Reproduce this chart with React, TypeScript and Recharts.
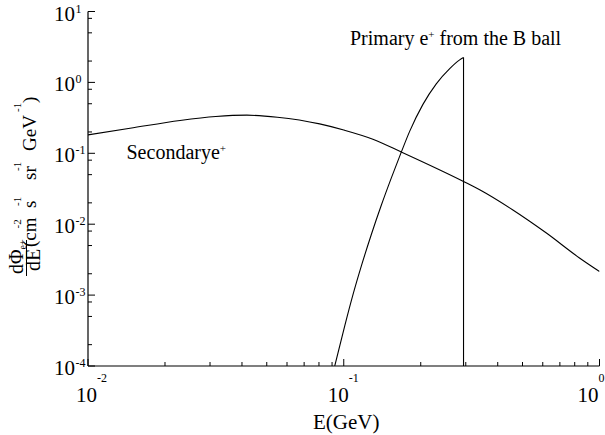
import React from 'react';
import { LineChart, Line, XAxis, YAxis, Customized } from 'recharts';

const FONT = '"Liberation Serif", "Times New Roman", Times, "DejaVu Serif", serif';
const fs = (size: number) => ({ fontFamily: FONT, fontSize: size });

// Secondary positron flux
const secondaryEnergy = [0.01, 0.0146, 0.0229, 0.0316, 0.0418, 0.055, 0.0805, 0.1, 0.13, 0.168, 0.294, 0.34, 0.457, 0.62, 0.835, 1.0];
const secondaryFlux = [0.182, 0.225, 0.29, 0.33, 0.345, 0.323, 0.26, 0.213, 0.158, 0.104, 0.04, 0.0306, 0.016, 0.0075, 0.00334, 0.00215];

// Primary positron flux from the B ball
const primaryEnergy = [0.0922, 0.1009, 0.1088, 0.1172, 0.128, 0.14, 0.1535, 0.168, 0.181, 0.204, 0.23, 0.2596, 0.284, 0.294];
const primaryFlux = [0.0001, 0.000368, 0.00103, 0.00258, 0.00705, 0.0182, 0.045, 0.1047, 0.204, 0.49, 0.955, 1.567, 2.08, 2.25];

// Sharp cutoff of the primary spectrum
const cutoffEnergy = [0.294, 0.294];
const cutoffFlux = [2.25, 0.0001];

// Axis ticks
const xTicks = [0.01, 0.02, 0.03, 0.04, 0.05, 0.06, 0.07, 0.08, 0.09, 0.1, 0.2, 0.3, 0.4, 0.5, 0.6, 0.7, 0.8, 0.9, 1];
const xMajorTicks = [0.01, 0.1, 1];
const xTickExponents = ['-2', '-1', '0'];
const yTicks = [0.0001, 0.0002, 0.0005, 0.0008, 0.001, 0.002, 0.005, 0.008, 0.01, 0.02, 0.05, 0.08, 0.1, 0.2, 0.5, 0.8, 1, 2, 5, 8, 10];
const yMajorTicks = [0.0001, 0.001, 0.01, 0.1, 1, 10];
const yTickExponents = ['-4', '-3', '-2', '-1', '0', '1'];

const secondaryData = secondaryEnergy.map((E, i) => ({ E, flux: secondaryFlux[i] }));
const primaryData = primaryEnergy.map((E, i) => ({ E, flux: primaryFlux[i] }));
const cutoffData = cutoffEnergy.map((E, i) => ({ E, flux: cutoffFlux[i] }));

const MAJOR = 7;
const MINOR = 4;
const xLabelShift = [-12, -16, -22];

const BottomTick = (props: any) => {
  const { x, y, payload } = props;
  const idx = xMajorTicks.indexOf(payload.value);
  const major = idx >= 0;
  const lx = x + (major ? xLabelShift[idx] : 0);
  return (
    <g>
      <line x1={x} y1={y} x2={x} y2={y - (major ? MAJOR : MINOR)} stroke="#000" strokeWidth={1} />
      {major && (
        <>
          <text x={lx} y={y + 36} style={fs(21)} fill="#000">10</text>
          <text x={lx + 21} y={y + 16} style={fs(12)} fill="#000">{xTickExponents[idx]}</text>
        </>
      )}
    </g>
  );
};

const TopTick = (props: any) => {
  const { x, y, payload } = props;
  const major = xMajorTicks.indexOf(payload.value) >= 0;
  return <line x1={x} y1={y} x2={x} y2={y + (major ? MAJOR : MINOR)} stroke="#000" strokeWidth={1} />;
};

const LeftTick = (props: any) => {
  const { x, y, payload } = props;
  const idx = yMajorTicks.indexOf(payload.value);
  const major = idx >= 0;
  return (
    <g>
      <line x1={x} y1={y} x2={x + (major ? MAJOR : MINOR)} y2={y} stroke="#000" strokeWidth={1} />
      {major && (
        <>
          <text x={75} y={y + 9} style={fs(21)} fill="#000" textAnchor="end">10</text>
          <text x={75.5} y={y + 1} style={fs(12)} fill="#000">{yTickExponents[idx]}</text>
        </>
      )}
    </g>
  );
};

const RightTick = (props: any) => {
  const { x, y, payload } = props;
  const major = yMajorTicks.indexOf(payload.value) >= 0;
  return <line x1={x} y1={y} x2={x - (major ? MAJOR : MINOR)} y2={y} stroke="#000" strokeWidth={1} />;
};

const Annotations = () => (
  <g fill="#000" style={{ fontFamily: FONT }}>
    <text x={350} y={45} style={fs(20)}>
      Primary e<tspan style={fs(11)} dy={-7}>+</tspan>
      <tspan style={fs(20)} dy={7}> from the B ball</tspan>
    </text>
    <text x={126.5} y={159} style={fs(20)}>
      Secondarye<tspan style={fs(11)} dy={-7}>+</tspan>
    </text>
    <text x={313} y={429} style={fs(21)}>E(GeV)</text>
    <g transform="rotate(-90)">
      <text x={-274} y={23} style={fs(20)}>dΦ</text>
      <text x={-249.5} y={25.5} style={fs(10)}>e+</text>
      <line x1={-276} y1={26.5} x2={-240} y2={26.5} stroke="#000" strokeWidth={1} />
      <text x={-260} y={39.5} style={fs(20)} textAnchor="middle">dE</text>
      <text x={-247} y={36} style={fs(19)}>(cm</text>
      <text x={-228.5} y={21} style={fs(11)}>-2</text>
      <text x={-208} y={36} style={fs(19)}>s</text>
      <text x={-206} y={21} style={fs(11)}>-1</text>
      <text x={-180} y={36} style={fs(19)}>sr</text>
      <text x={-171} y={21} style={fs(11)}>-1</text>
      <text x={-151} y={36} style={fs(19)}>GeV</text>
      <text x={-112} y={21} style={fs(11)}>-1</text>
      <text x={-103} y={36} style={fs(19)}>)</text>
    </g>
  </g>
);

const axisLine = { stroke: '#000', strokeWidth: 1.2 };

export default function App() {
  return (
    <div style={{ position: 'absolute', left: 0, top: 0, background: '#fff' }}>
      <LineChart width={605} height={435} margin={{ top: 11.5, right: 5.5, bottom: 0, left: 0 }}>
        <XAxis xAxisId="b" dataKey="E" type="number" scale="log" domain={[0.01, 1]} allowDataOverflow
          ticks={xTicks} interval={0} orientation="bottom" height={69} tickSize={0} tickMargin={0}
          tickLine={false} axisLine={axisLine} tick={BottomTick} />
        <XAxis xAxisId="t" dataKey="E" type="number" scale="log" domain={[0.01, 1]} allowDataOverflow
          ticks={xTicks} interval={0} orientation="top" height={0} tickSize={0} tickMargin={0}
          tickLine={false} axisLine={axisLine} tick={TopTick} />
        <YAxis yAxisId="l" type="number" scale="log" domain={[0.0001, 10]} allowDataOverflow
          ticks={yTicks} interval={0} orientation="left" width={88} tickSize={0} tickMargin={0}
          tickLine={false} axisLine={axisLine} tick={LeftTick} />
        <YAxis yAxisId="r" type="number" scale="log" domain={[0.0001, 10]} allowDataOverflow
          ticks={yTicks} interval={0} orientation="right" width={0} tickSize={0} tickMargin={0}
          tickLine={false} axisLine={axisLine} tick={RightTick} />
        <Line xAxisId="b" yAxisId="l" data={secondaryData} dataKey="flux" type="monotone"
          stroke="#000" strokeWidth={1.1} dot={false} isAnimationActive={false} />
        <Line xAxisId="b" yAxisId="l" data={primaryData} dataKey="flux" type="monotone"
          stroke="#000" strokeWidth={1.1} dot={false} isAnimationActive={false} />
        <Line xAxisId="b" yAxisId="l" data={cutoffData} dataKey="flux" type="linear"
          stroke="#000" strokeWidth={1.1} dot={false} isAnimationActive={false} />
        <Customized component={Annotations} />
      </LineChart>
    </div>
  );
}
